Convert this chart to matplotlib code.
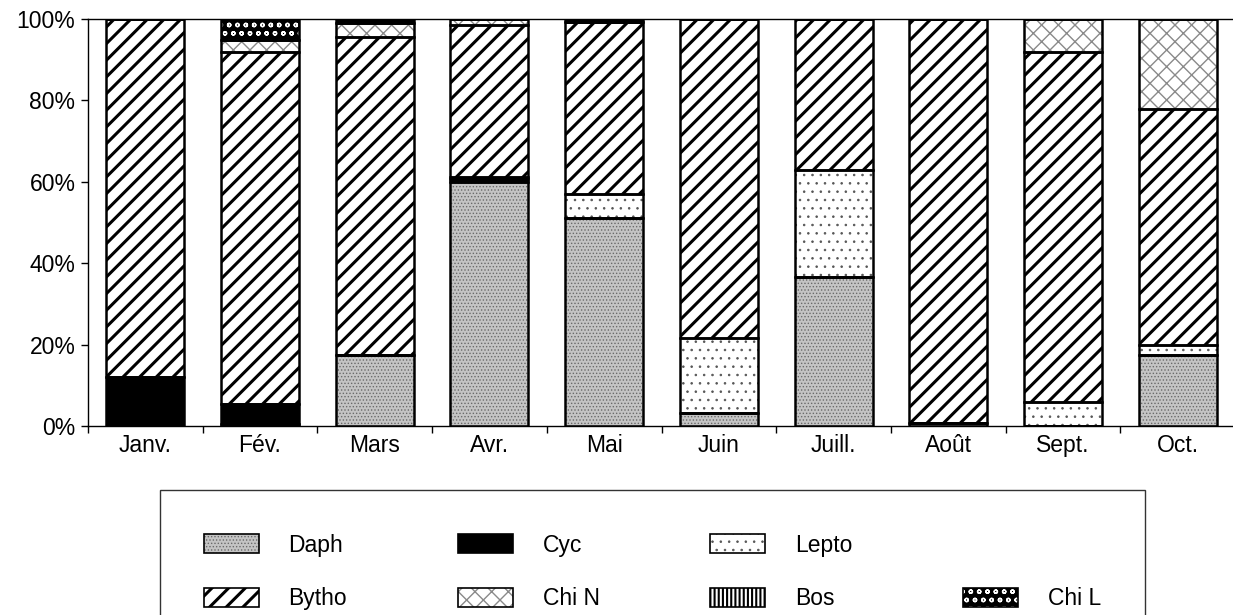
import matplotlib
matplotlib.use("Agg")
import matplotlib.pyplot as plt
import matplotlib.patches as mpatches
from matplotlib.ticker import FixedLocator, FuncFormatter
import numpy as np

plt.rcParams.update({
    "font.family": ["Liberation Sans", "DejaVu Sans"],
    "font.size": 16.5,
})

# ---------------------------------------------
# DATOS (% de la biomasse par mois)
# ---------------------------------------------
mois  = ["Janv.", "Fév.", "Mars", "Avr.", "Mai", "Juin", "Juill.", "Août", "Sept.", "Oct."]
daph  = [0, 0.5, 17.5, 60.0, 51.0, 3.2, 36.5, 0.8, 0, 17.5]
cyc   = [12.0, 5.0, 0, 0.8, 0, 0, 0, 0, 0, 0]
lepto = [0, 0, 0, 0.5, 6.0, 18.3, 26.5, 0, 6.0, 2.3]
bytho = [88.0, 86.3, 78.0, 37.2, 42.2, 78.5, 37.0, 99.2, 86.0, 58.2]
chin  = [0, 3.1, 3.5, 1.5, 0, 0, 0, 0, 8.0, 22.0]
bos   = [0, 0, 0, 0, 0, 0, 0, 0, 0, 0]
chil  = [0, 5.1, 1.0, 0, 0.8, 0, 0, 0, 0, 0]

series = [
    # nom, valeurs, fond, hachure, couleur hachure
    ("Daph",  daph,  "#c4c4c4", ".....", "#6a6a6a"),
    ("Cyc",   cyc,   "black",   None,    "black"),
    ("Lepto", lepto, "white",   "..",    "#555555"),
    ("Bytho", bytho, "white",   "//",    "black"),
    ("Chi N", chin,  "white",   "xx",    "#8a8a8a"),
    ("Bos",   bos,   "white",   "||||",  "black"),
    ("Chi L", chil,  "black",   "oo",    "white"),
]
# epaisseur du trait de hachure selon le motif
epaisseur = {".....": 0.6, "..": 0.6, "//": 2.2, "xx": 1.0, "||||": 1.5, "oo": 1.0}

W, H = 1233, 615
fig = plt.figure(figsize=(W / 100, H / 100), dpi=100)
ax = fig.add_axes([88 / W, 1 - 426 / H, (1235 - 88) / W, (426 - 19) / H])

x = np.arange(len(mois))
bottom = np.zeros(len(mois))
handles = {}

for nom, vals, fond, hatch, hcol in series:
    vals = np.array(vals, dtype=float)
    ax.bar(x, vals, width=0.68, bottom=bottom, color=fond,
           hatch=hatch, edgecolor=hcol, linewidth=0, zorder=2)
    ax.bar(x, vals, width=0.68, bottom=bottom, fill=False,
           edgecolor="black", linewidth=1.8, zorder=3)
    bottom += vals

    h1 = mpatches.Patch(facecolor=fond, hatch=hatch, edgecolor=hcol, linewidth=0)
    h2 = mpatches.Patch(fill=False, edgecolor="black", linewidth=1.2)
    handles[nom] = (h1, h2)

ax.set_xlim(-0.5, len(mois) - 0.5)
ax.set_ylim(0, 100)

ax.spines["right"].set_visible(False)
for s in ["left", "bottom", "top"]:
    ax.spines[s].set_linewidth(1.0)
    ax.spines[s].set_color("black")

ax.yaxis.set_major_locator(FixedLocator([0, 20, 40, 60, 80, 100]))
ax.yaxis.set_major_formatter(FuncFormatter(lambda v, p: f"{int(v)}%"))
ax.tick_params(axis="y", length=5, width=1, pad=4, labelsize=16.5)

ax.set_xticks(x)
ax.set_xticklabels(mois)
ax.set_xticks(np.arange(len(mois) + 1) - 0.5, minor=True)
ax.tick_params(axis="x", which="major", length=0, pad=6, labelsize=16.5)
ax.tick_params(axis="x", which="minor", length=5, width=1)

# legende : Daph, Cyc, Lepto / Bytho, Chi N, Bos, Chi L
vide = mpatches.Patch(visible=False)
ordre = [handles["Daph"], handles["Bytho"], handles["Cyc"], handles["Chi N"],
         handles["Lepto"], handles["Bos"], vide, handles["Chi L"]]
labels = ["Daph", "Bytho", "Cyc", "Chi N", "Lepto", "Bos", "", "Chi L"]

leg = fig.legend(ordre, labels, ncol=4, mode="expand",
                 loc="upper left",
                 bbox_to_anchor=(160 / W, 1 - 490 / H, 985 / W, 0.0),
                 frameon=True, fancybox=False, edgecolor="black",
                 borderpad=1.9, labelspacing=1.35,
                 handlelength=2.4, handleheight=0.87, handletextpad=1.3,
                 columnspacing=4.0, fontsize=16.5, borderaxespad=0)
leg.get_frame().set_linewidth(1.0)

# epaisseur de hachure, barres et legende
for p in fig.findobj(mpatches.Patch):
    h = p.get_hatch()
    if h in epaisseur:
        p.set_hatch_linewidth(epaisseur[h])

fig.savefig("out.png", dpi=100)
